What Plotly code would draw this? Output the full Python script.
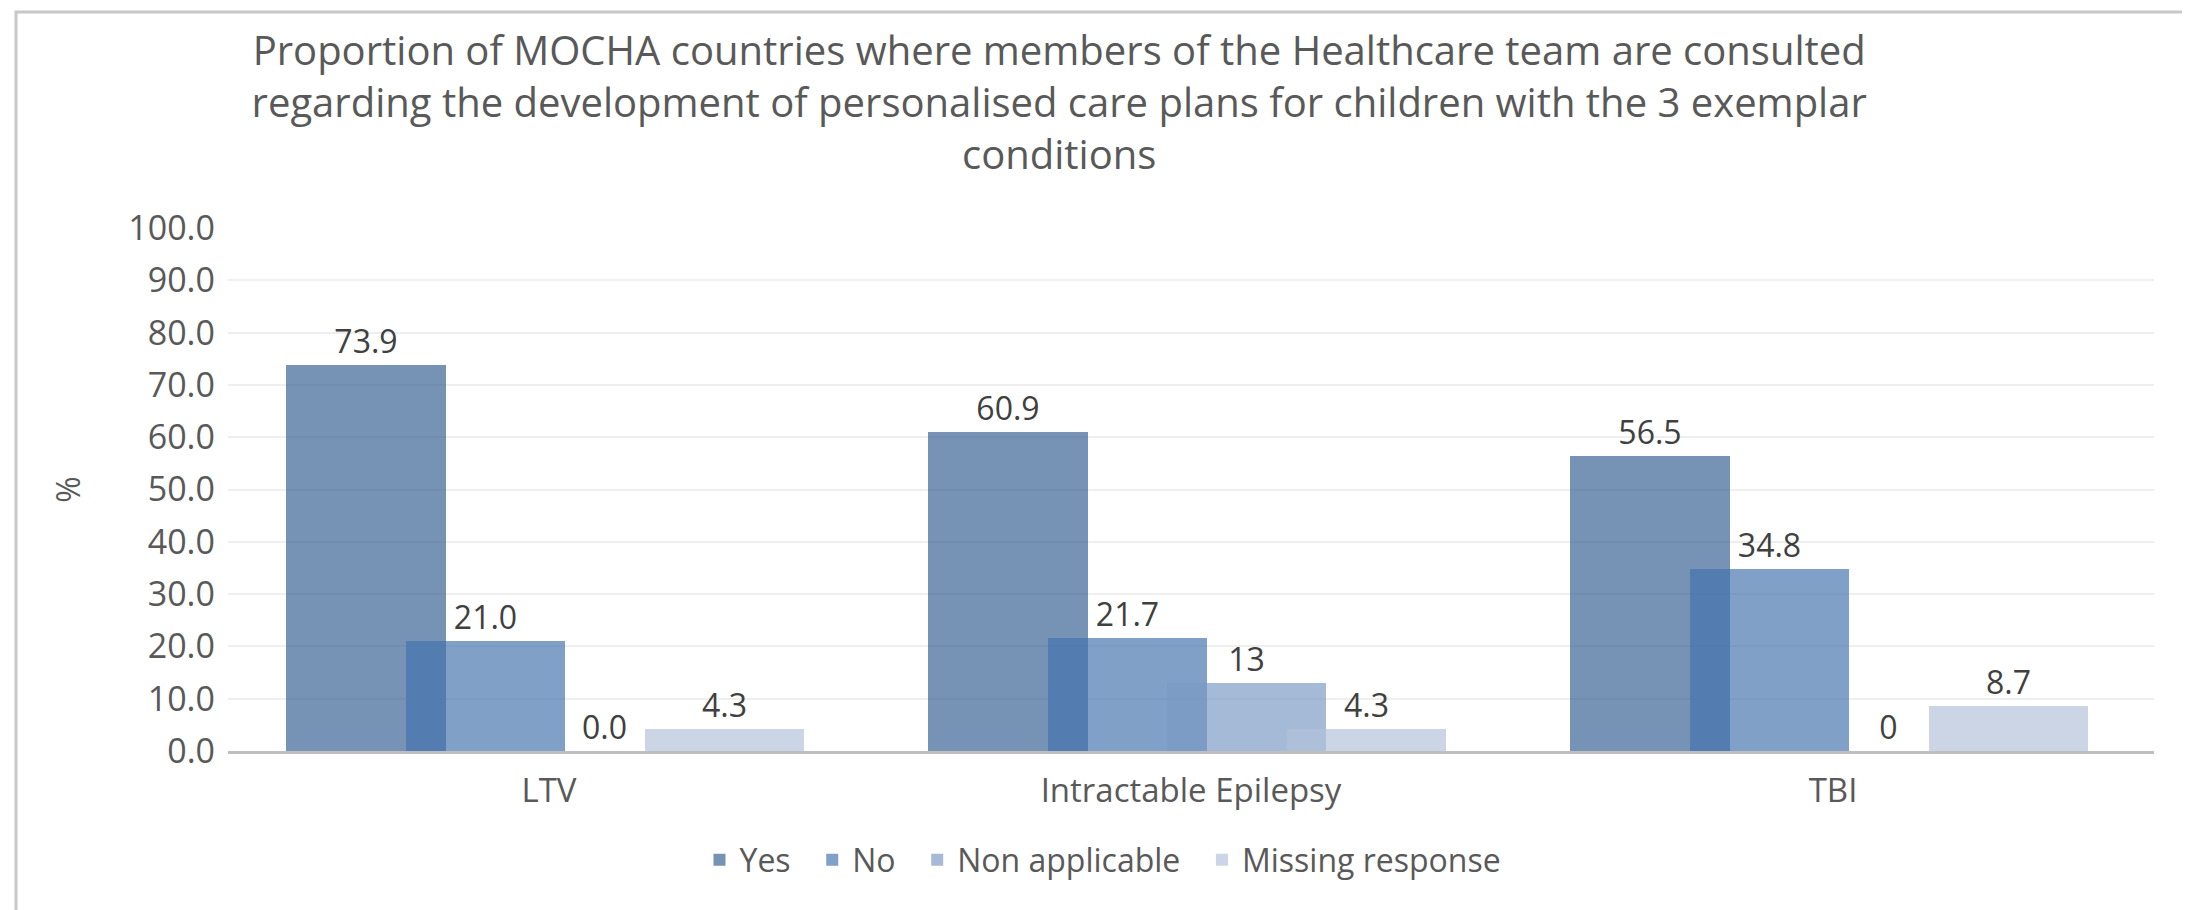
import plotly.graph_objects as go

categories = ["LTV", "Intractable Epilepsy", "TBI"]
series_names = ["Yes", "No", "Non applicable", "Missing response"]
yes_vals = [73.9, 60.9, 56.5]
no_vals = [21.0, 21.7, 34.8]
na_vals = [0.0, 13.0, 0.0]
missing_vals = [4.3, 4.3, 8.7]
yes_labels = ["73.9", "60.9", "56.5"]
no_labels = ["21.0", "21.7", "34.8"]
na_labels = ["0.0", "13", "0"]
missing_labels = ["4.3", "4.3", "8.7"]
y_ticks = [0, 10, 20, 30, 40, 50, 60, 70, 80, 90, 100]

title_text = ("Proportion of MOCHA countries where members of the Healthcare team are consulted<br>"
              "regarding the development of personalised care plans for children with the 3 exemplar<br>"
              "conditions")

series_vals = [yes_vals, no_vals, na_vals, missing_vals]
series_labels = [yes_labels, no_labels, na_labels, missing_labels]
colors = ["rgba(52,95,146,0.675)", "rgba(67,114,174,0.675)",
          "rgba(122,152,196,0.675)", "rgba(178,193,218,0.675)"]
bar_w = 0.248
step = 0.186
FONT = "Open Sans"
PAD = "\u00a0\u00a0"

fig = go.Figure()
for i, (name, vals, labs, col) in enumerate(zip(series_names, series_vals, series_labels, colors)):
    center = (i - 1.5) * step
    fig.add_trace(go.Bar(
        name=name + (PAD if i < len(series_names) - 1 else ""),
        x=categories, y=vals, text=labs,
        textposition="outside", cliponaxis=False,
        textfont=dict(family=FONT, size=32, color="#404040"),
        marker=dict(color=col, line=dict(width=0)),
        width=bar_w, offset=center - bar_w / 2 - 0.006,
    ))

fig.update_layout(
    width=2190, height=910,
    barmode="overlay",
    paper_bgcolor="white", plot_bgcolor="white",
    margin=dict(l=220, r=44, t=220, b=167, autoexpand=False),
    title=dict(text=title_text, x=0.48, xanchor="center", xref="container",
               y=1 - 57 / 910, yanchor="top", yref="container",
               font=dict(family=FONT, size=40, color="#595959")),
    font=dict(family=FONT, color="#595959"),
    showlegend=True,
    legend=dict(orientation="h", x=0.5, xanchor="center", xref="container",
                y=1 - 852 / 910, yanchor="middle", yref="container",
                font=dict(family=FONT, size=32, color="#595959"),
                traceorder="normal", itemwidth=30),
    yaxis=dict(range=[0, 100], tickvals=y_ticks, tickformat=".1f",
               showgrid=True, gridcolor="#EFEFEF", gridwidth=2,
               zeroline=False, showline=False, ticks="", automargin=False,
               tickfont=dict(family=FONT, size=34, color="#595959"),
               ticklabelstandoff=12,
               title=dict(text="%", font=dict(family=FONT, size=32, color="#595959"), standoff=38)),
    xaxis=dict(range=[-0.5, 2.5], showline=True, linecolor="#BFBFBF", linewidth=3, ticks="",
               showgrid=False, automargin=False, ticklabelstandoff=8,
               tickfont=dict(family=FONT, size=33, color="#595959")),
    bargap=0,
)

fig.add_shape(type="rect", xref="paper", yref="paper",
              x0=(8 - 220) / 1926, x1=(2176 - 220) / 1926,
              y0=(743 - 906) / 523, y1=(743 - 4) / 523,
              line=dict(color="#C8C8C8", width=3), layer="below")

fig.write_html("out.html")
